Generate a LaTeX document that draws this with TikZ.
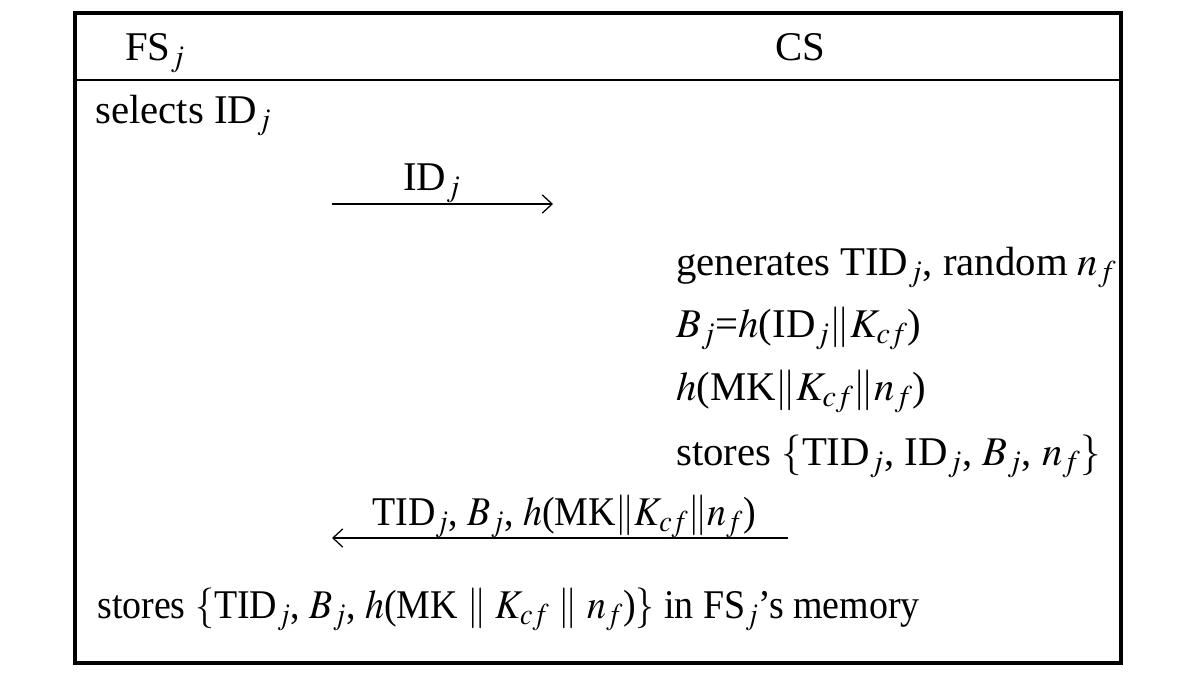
\documentclass[tikz,border=0pt]{standalone}
\usepackage{mathptmx}
\usepackage{fontspec}
\setmainfont{Liberation Serif}
\usetikzlibrary{positioning,arrows.meta}
\tikzset{
  frame/.style={line width=2.2pt},
  txt/.style={anchor=base west, inner sep=0pt, font=\fontsize{29}{34}\selectfont},
  msg/.style={-{Straight Barb[length=7pt,width=13pt]}, line width=0.9pt},
  narrow/.style={xscale=#1, transform shape},
}

\begin{document}
\begin{tikzpicture}[x=0.025cm, y=-0.025cm]
	\useasboundingbox (0,0) rectangle (1200,680);
	% frame and header
	\draw[frame] (75,13) rectangle (1121,663);
	\draw[line width=1.6pt] (75,80) -- (1121,80);
	\node[txt] (fs) at (125,60) {FS$_j$};
	\node[txt, anchor=base] (cs) at (800,60) {CS};
	% step 1
	\node[txt] (sel) at (95,123) {selects ID$_j$};
	\coordinate (m1s) at (332,204);
	\coordinate (m1e) at (553,204);
	\draw[msg] (m1s) -- (m1e);
	\node[txt] (m1) at (403,190) {ID$_j$};
	% CS side
	\node[txt] (gen) at (676,275) {generates TID$_j$, random $n_f$};
	\node[txt] (bj) at (676,337) {$B_j$=$h$(ID$_j\|K_{cf}$)};
	\node[txt] (hmk) at (676,400) {$h$(MK$\|K_{cf}\|n_f$)};
	\node[txt] (st1) at (676,465) {stores $\{$TID$_j$, ID$_j$, $B_j$, $n_f\}$};
	% step 2
	\coordinate (m2s) at (788,538);
	\coordinate (m2e) at (332,538);
	\draw[msg] (m2s) -- (m2e);
	\node[txt, narrow=0.93] (m2) at (372,525) {TID$_j$, $B_j$, $h$(MK$\|K_{cf}\|n_f$)};
	\node[txt, narrow=0.93] (st2) at (97,618) {stores $\{$TID$_j$, $B_j$, $h$(MK $\|$ $K_{cf}$ $\|$ $n_f$)$\}$ in FS$_j$'s memory};
\end{tikzpicture}
\end{document}
